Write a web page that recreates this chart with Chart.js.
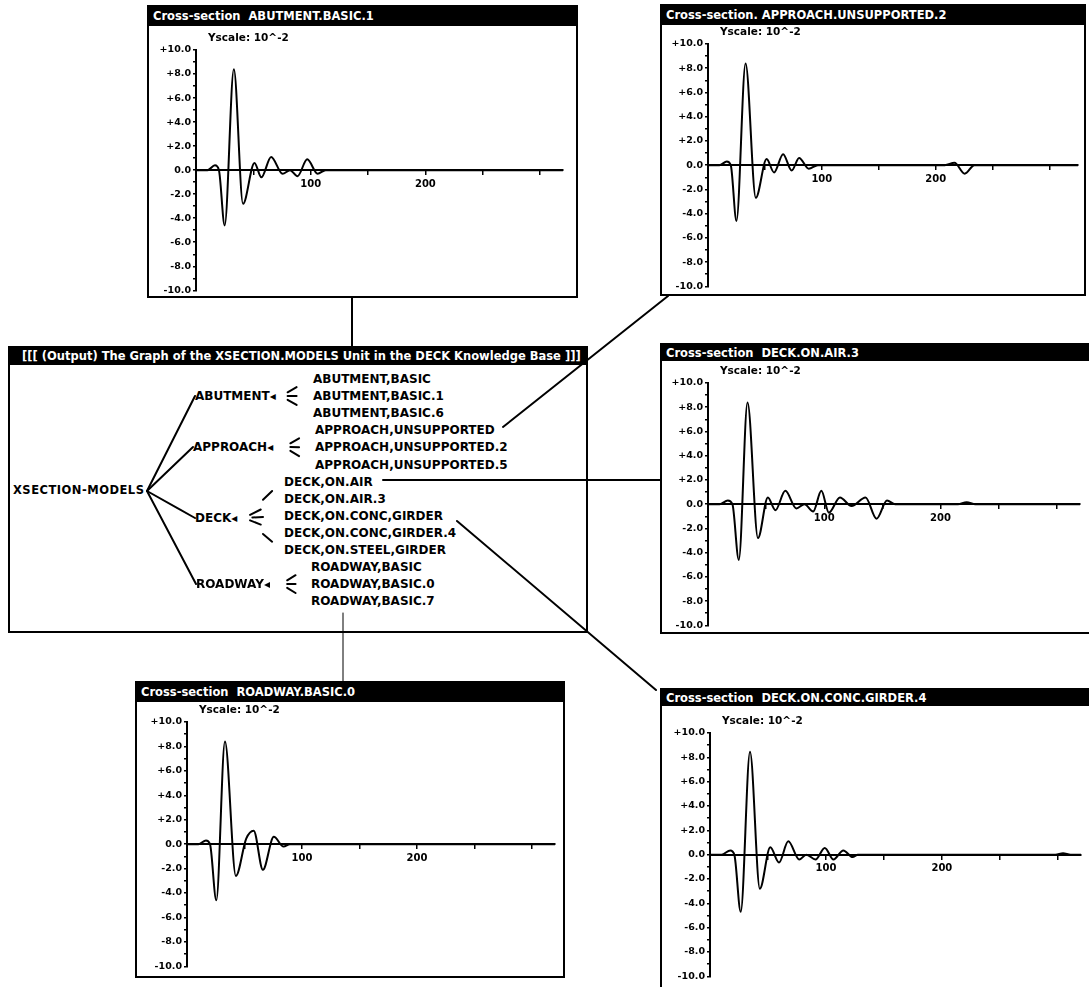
<!DOCTYPE html>
<html>
<head>
<meta charset="utf-8">
<script src="https://cdn.jsdelivr.net/npm/chart.js@4.4.1/dist/chart.umd.min.js"></script>
<style>
  html, body { margin: 0; padding: 0; background: #fff; width: 1089px; height: 987px; overflow: hidden; }
  body { position: relative; font-family: "DejaVu Sans", sans-serif; font-weight: bold; color: #000; }
  .win { position: absolute; background: #fff; border: 2px solid #000; box-sizing: border-box; overflow: hidden; }
  .bar { position: absolute; left: 0; right: 0; top: 0; background: #000; color: #fff; font-size: 11.5px; padding-left: 4px; white-space: pre; overflow: hidden; }
  .txt { position: absolute; white-space: pre; line-height: 1; }
  canvas { position: absolute; }
  svg { position: absolute; left: 0; top: 0; z-index: 5; }
</style>
</head>
<body>
<script>
// Response waveforms, amplitude in units of 10^-2, sampled at the turning points
const abutmentX = [0, 10, 16.5, 20, 25, 33, 41, 51, 57, 65.5, 75.5, 82, 88.5, 97, 106, 113, 320];
const abutmentY = [0, 0, 0.4, 0, -4.6, 8.4, -2.8, 0.6, -0.6, 1.1, -0.3, 0, -0.5, 0.9, -0.3, 0, 0];

const approachX = [0, 10, 16.5, 20, 25, 33, 42, 51.5, 58, 66, 73.5, 80, 88.5, 96.5, 208, 216.5, 225.5, 234, 325];
const approachY = [0, 0, 0.3, 0, -4.6, 8.4, -2.7, 0.5, -0.6, 0.9, -0.45, 0.6, -0.3, 0, 0, 0.2, -0.7, 0, 0];

const deckAirX = [0, 10, 17, 21, 26.5, 34, 43, 51.5, 58, 66.5, 76, 83, 90.5, 97.5, 104, 113.5, 123.5, 135.5, 145, 154, 161, 215, 222.5, 230, 320];
const deckAirY = [0, 0, 0.3, 0, -4.6, 8.4, -2.8, 0.55, -0.5, 1.1, -0.35, 0, -0.6, 1.1, -0.7, 0.55, -0.15, 0.55, -1.2, 0.3, 0, 0, 0.15, 0, 0];

const roadwayX = [0, 10, 16.5, 20, 25.5, 33, 42.5, 51.5, 58, 66, 75.5, 84, 89.5, 320];
const roadwayY = [0, 0, 0.3, 0, -4.6, 8.4, -2.6, 0.45, 1.1, -2.1, 0.6, -0.2, 0, 0];

const deckConcX = [0, 10, 17.5, 21, 26.5, 34.5, 43, 52, 59.5, 67.5, 77, 83, 91, 99, 106.5, 115, 123, 127.5, 298, 304.5, 311, 320];
const deckConcY = [0, 0, 0.35, 0, -4.7, 8.45, -2.8, 0.6, -0.65, 1.1, -0.4, 0, -0.4, 0.55, -0.4, 0.35, -0.2, 0, 0, 0.12, 0, 0];

// Axis tick labels
const yTickValues = [-10, -8, -6, -4, -2, 0, 2, 4, 6, 8, 10];
const yTickLabels = ['-10.0', '-8.0', '-6.0', '-4.0', '-2.0', '0.0', '+2.0', '+4.0', '+6.0', '+8.0', '+10.0'];
const xTickValues = [100, 200];
const xTickLabels = ['100', '200'];
const scaleNote = 'Yscale: 10^-2';

// Knowledge-base graph
const graphTitle = '[[[ (Output) The Graph of the XSECTION.MODELS Unit in the DECK Knowledge Base ]]]';
const rootName = 'XSECTION-MODELS';
const branchNames = ['ABUTMENT\u25C2', 'APPROACH\u25C2', 'DECK\u25C2', 'ROADWAY\u25C2'];
const leafNames = [
  ['ABUTMENT,BASIC', 'ABUTMENT,BASIC.1', 'ABUTMENT,BASIC.6'],
  ['APPROACH,UNSUPPORTED', 'APPROACH,UNSUPPORTED.2', 'APPROACH,UNSUPPORTED.5'],
  ['DECK,ON.AIR', 'DECK,ON.AIR.3', 'DECK,ON.CONC,GIRDER', 'DECK,ON.CONC,GIRDER.4', 'DECK,ON.STEEL,GIRDER'],
  ['ROADWAY,BASIC', 'ROADWAY,BASIC.0', 'ROADWAY,BASIC.7']
];

// Window layout: win = [left, top, right, bottom], plot = [axisX, +10 line, right end, -10 line]
const panels = [
  { title: 'Cross-section  ABUTMENT.BASIC.1', xs: abutmentX, ys: abutmentY, xMax: 320, barH: 19,
    win: [147, 5, 578, 298], plot: [196, 50, 563, 292] },
  { title: 'Cross-section. APPROACH.UNSUPPORTED.2', xs: approachX, ys: approachY, xMax: 325, barH: 19,
    win: [660, 4, 1086, 296], plot: [708, 44, 1078, 288] },
  { title: 'Cross-section  DECK.ON.AIR.3', xs: deckAirX, ys: deckAirY, xMax: 320, barH: 16,
    win: [660, 343, 1096, 634], plot: [708, 383, 1080, 627] },
  { title: 'Cross-section  ROADWAY.BASIC.0', xs: roadwayX, ys: roadwayY, xMax: 320, barH: 19,
    win: [135, 681, 565, 978], plot: [187, 722, 555, 968] },
  { title: 'Cross-section  DECK.ON.CONC.GIRDER.4', xs: deckConcX, ys: deckConcY, xMax: 320, barH: 16,
    win: [660, 688, 1096, 1000], plot: [710, 733, 1081, 978] }
];

const tickFont = { family: 'DejaVu Sans', weight: 'bold', size: 9.5 };
const xFont = { family: 'DejaVu Sans', weight: 'bold', size: 10 };

function addWindow(box, title, barH, padLeft) {
  const w = document.createElement('div');
  w.className = 'win';
  w.style.left = box[0] + 'px';
  w.style.top = box[1] + 'px';
  w.style.width = (box[2] - box[0]) + 'px';
  w.style.height = (box[3] - box[1]) + 'px';
  const b = document.createElement('div');
  b.className = 'bar';
  b.style.height = barH + 'px';
  b.style.lineHeight = barH + 'px';
  if (padLeft !== undefined) b.style.paddingLeft = padLeft + 'px';
  b.textContent = title;
  w.appendChild(b);
  document.body.appendChild(w);
  return w;
}

function addText(str, x, y, size, extra) {
  const t = document.createElement('div');
  t.className = 'txt';
  t.style.left = x + 'px';
  t.style.top = (y - size * 0.5) + 'px';
  t.style.fontSize = size + 'px';
  if (extra) Object.assign(t.style, extra);
  t.textContent = str;
  document.body.appendChild(t);
  return t;
}

function lookup(values, labels, v) {
  const i = values.indexOf(v);
  return i >= 0 ? labels[i] : '';
}

function addChart(p) {
  const padL = 52, padT = 14, padR = 8, padB = 6;
  const [L, T, R, B] = p.plot;
  const w = R - L + padL + padR;
  const h = B - T + padT + padB;
  const c = document.createElement('canvas');
  c.width = w; c.height = h;
  c.style.width = w + 'px'; c.style.height = h + 'px';
  c.style.left = (L - padL) + 'px';
  c.style.top = (T - padT) + 'px';
  c.style.zIndex = 2;
  document.body.appendChild(c);

  new Chart(c, {
    type: 'line',
    data: {
      datasets: [{
        data: p.xs.map((x, i) => ({ x: x, y: p.ys[i] })),
        borderColor: '#000',
        borderWidth: 2,
        pointRadius: 0,
        fill: false,
        cubicInterpolationMode: 'monotone'
      }]
    },
    options: {
      responsive: false,
      animation: false,
      devicePixelRatio: 1,
      events: [],
      layout: { padding: { left: 0, top: padT, right: padR, bottom: padB } },
      plugins: { legend: { display: false }, tooltip: { enabled: false } },
      scales: {
        x: {
          type: 'linear',
          min: 0,
          max: p.xMax,
          position: { y: 0 },
          afterFit: s => { s.height = 0; },
          ticks: {
            stepSize: 50,
            includeBounds: false,
            autoSkip: false,
            maxRotation: 0,
            padding: 4,
            color: '#000',
            font: xFont,
            callback: v => lookup(xTickValues, xTickLabels, v)
          },
          grid: { drawOnChartArea: false, drawTicks: true, tickLength: 4, color: '#000', lineWidth: 1.5 },
          border: { display: true, color: '#000', width: 2 }
        },
        y: {
          type: 'linear',
          min: -10,
          max: 10,
          position: 'left',
          afterFit: s => { s.width = padL; },
          ticks: {
            stepSize: 1,
            autoSkip: false,
            padding: 2,
            color: '#000',
            font: tickFont,
            callback: v => lookup(yTickValues, yTickLabels, v)
          },
          grid: { drawOnChartArea: false, drawTicks: true, tickLength: 3, color: '#000', lineWidth: 1.5 },
          border: { display: true, color: '#000', width: 2 }
        }
      }
    }
  });

  addText(scaleNote, L + 12, T - 13, 10.5, { zIndex: 3 });
}

// Chart windows
panels.forEach(p => {
  addWindow(p.win, p.title, p.barH);
  addChart(p);
});

// Graph window
addWindow([8, 346, 588, 633], graphTitle, 17, 12);

const rootPos = [13, 491];
const rootJoin = [147, 491];
const branchPos = [[195, 396], [193, 447], [195, 518], [196, 584]];
const branchEnd = [281, 284, 244, 281];
const leafX = [313, 315, 284, 311];
const leafY0 = 379, leafStep = 17.1;
const fanSpans = {
  3: [[0.22, 0.52], [0.22, 0.52], [0.22, 0.52]],
  5: [[0.5, 0.74], [0.16, 0.44], [0.22, 0.5], [0.16, 0.44], [0.5, 0.74]]
};

addText(rootName, rootPos[0], rootPos[1], 11.5, { zIndex: 3, letterSpacing: '0.5px' });

const svgNS = 'http://www.w3.org/2000/svg';
const svg = document.createElementNS(svgNS, 'svg');
svg.setAttribute('width', 1089);
svg.setAttribute('height', 987);
document.body.appendChild(svg);

function seg(x1, y1, x2, y2, w) {
  const l = document.createElementNS(svgNS, 'line');
  l.setAttribute('x1', x1); l.setAttribute('y1', y1);
  l.setAttribute('x2', x2); l.setAttribute('y2', y2);
  l.setAttribute('stroke', '#000');
  l.setAttribute('stroke-width', w);
  l.setAttribute('stroke-linecap', 'round');
  svg.appendChild(l);
}

let row = 0;
branchNames.forEach((name, b) => {
  const [bx, by] = branchPos[b];
  addText(name, bx, by, 12, { zIndex: 3 });
  seg(rootJoin[0], rootJoin[1], bx, by, 2);
  const spans = fanSpans[leafNames[b].length];
  leafNames[b].forEach((leaf, j) => {
    const ly = leafY0 + leafStep * row;
    addText(leaf, leafX[b], ly, 12, { zIndex: 3 });
    const ax = branchEnd[b], tx = leafX[b] - 2;
    const [t1, t2] = spans[j];
    seg(ax + (tx - ax) * t1, by + (ly - by) * t1, ax + (tx - ax) * t2, by + (ly - by) * t2, 2);
    row++;
  });
});

// Links from graph nodes to their cross-section windows
const links = [
  [352, 298, 352, 346, 2],
  [503, 427, 668, 296, 2],
  [383, 480, 660, 480, 2],
  [457, 521, 656, 690, 2],
  [343, 613, 343, 681, 1]
];
links.forEach(k => seg(k[0], k[1], k[2], k[3], k[4]));
</script>
</body>
</html>
